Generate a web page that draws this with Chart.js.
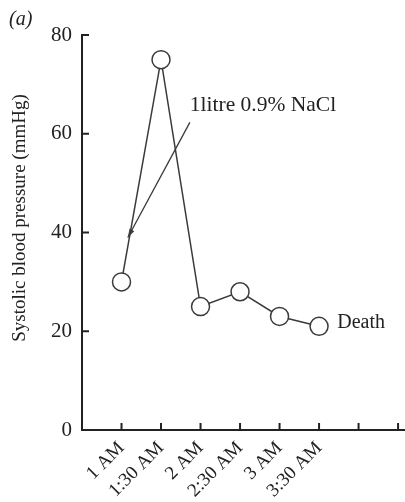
<!DOCTYPE html>
<html>
<head>
<meta charset="utf-8">
<script src="https://cdn.jsdelivr.net/npm/chart.js@4"></script>
<style>
  html, body { margin: 0; padding: 0; background: #fff; }
  #wrap { width: 405px; height: 502px; }
</style>
</head>
<body>
<div id="wrap"><canvas id="chartCanvas" width="405" height="502"></canvas></div>
<script>
// time points (x position index) and readings
const timeLabels = ['1 AM', '1:30 AM', '2 AM', '2:30 AM', '3 AM', '3:30 AM'];
const timeSlots = [1, 2, 3, 4, 5, 6];
const systolic = [30, 75, 25, 28, 23, 21];
const yTicks = [0, 20, 40, 60, 80];

// annotation: text anchor and arrow in data units
const nacl_text = '1litre 0.9% NaCl';
const nacl_textAt = [2.73, 65.8];
const nacl_arrowFrom = [2.73, 62.3];
const nacl_arrowTo = [1.16, 39];
const deathText = 'Death';
const deathAt = [6.46, 21.7];

const serif = "'Liberation Serif', 'Times New Roman', serif";
const ink = '#222';
const lineInk = '#3a3a3a';

const annotations = {
    id: 'annotations',
    afterDraw(chart) {
        const ctx = chart.ctx;
        const x = chart.scales.x, y = chart.scales.y;
        const area = chart.chartArea;
        ctx.save();
        ctx.strokeStyle = ink;
        ctx.lineWidth = 2;
        // inward tick marks on y axis
        yTicks.forEach(v => {
            const py = y.getPixelForValue(v);
            ctx.beginPath();
            ctx.moveTo(area.left, py);
            ctx.lineTo(area.left + 7, py);
            ctx.stroke();
        });
        // inward tick marks on x axis (8 slots)
        x.ticks.forEach(t => {
            if (t.value < 1) return;
            const px = x.getPixelForValue(t.value);
            ctx.beginPath();
            ctx.moveTo(px, area.bottom);
            ctx.lineTo(px, area.bottom - 7);
            ctx.stroke();
        });

        // arrow for saline
        const fx = x.getPixelForValue(nacl_arrowFrom[0]), fy = y.getPixelForValue(nacl_arrowFrom[1]);
        const tx = x.getPixelForValue(nacl_arrowTo[0]), ty = y.getPixelForValue(nacl_arrowTo[1]);
        ctx.strokeStyle = lineInk;
        ctx.lineWidth = 1.3;
        ctx.beginPath();
        ctx.moveTo(fx, fy);
        ctx.lineTo(tx, ty);
        ctx.stroke();
        const ang = Math.atan2(ty - fy, tx - fx);
        ctx.fillStyle = lineInk;
        ctx.beginPath();
        ctx.moveTo(tx, ty);
        ctx.lineTo(tx - 9 * Math.cos(ang - 0.3), ty - 9 * Math.sin(ang - 0.3));
        ctx.lineTo(tx - 9 * Math.cos(ang + 0.3), ty - 9 * Math.sin(ang + 0.3));
        ctx.closePath();
        ctx.fill();

        ctx.fillStyle = ink;
        ctx.textBaseline = 'middle';
        ctx.textAlign = 'left';
        ctx.font = '21.5px ' + serif;
        ctx.fillText(nacl_text, x.getPixelForValue(nacl_textAt[0]), y.getPixelForValue(nacl_textAt[1]));
        ctx.font = '20px ' + serif;
        ctx.fillText(deathText, x.getPixelForValue(deathAt[0]), y.getPixelForValue(deathAt[1]));

        // panel label
        ctx.font = 'italic 20px ' + serif;
        ctx.fillText('(a)', 9, 20);

        // y axis title
        ctx.font = '19px ' + serif;
        ctx.textAlign = 'center';
        ctx.translate(20, 218);
        ctx.rotate(-Math.PI / 2);
        ctx.fillText('Systolic blood pressure (mmHg)', 0, 0);
        ctx.restore();
    }
};

const ctx = document.getElementById('chartCanvas').getContext('2d');
new Chart(ctx, {
    type: 'line',
    data: {
        datasets: [{
            data: timeSlots.map((t, i) => ({ x: t, y: systolic[i] })),
            borderColor: lineInk,
            borderWidth: 1.5,
            pointRadius: 9,
            pointBorderWidth: 1.5,
            pointBackgroundColor: '#fff',
            pointBorderColor: lineInk,
            tension: 0,
            fill: false,
            clip: false
        }]
    },
    options: {
        responsive: false,
        animation: false,
        layout: { autoPadding: false, padding: { top: 35, right: 1, left: 0, bottom: 0 } },
        plugins: { legend: { display: false }, tooltip: { enabled: false } },
        scales: {
            x: {
                type: 'linear',
                min: 0,
                max: 8.15,
                afterBuildTicks: scale => {
                    scale.ticks = [1, 2, 3, 4, 5, 6, 7, 8].map(v => ({ value: v }));
                },
                afterFit: scale => {
                    scale.height = 72;
                    scale.paddingLeft = 0;
                    scale.paddingRight = 0;
                },
                grid: { display: false, drawTicks: false },
                border: { display: true, color: ink, width: 2 },
                ticks: {
                    autoSkip: false,
                    minRotation: 45,
                    maxRotation: 45,
                    padding: 7,
                    color: ink,
                    font: { family: serif, size: 19 },
                    callback: v => timeLabels[v - 1] || ''
                }
            },
            y: {
                min: 0,
                max: 80,
                afterBuildTicks: scale => {
                    scale.ticks = yTicks.map(v => ({ value: v }));
                },
                afterFit: scale => { scale.width = 82; },
                grid: { display: false, drawTicks: false },
                border: { display: true, color: ink, width: 2 },
                ticks: {
                    padding: 10,
                    color: ink,
                    font: { family: serif, size: 21 }
                }
            }
        }
    },
    plugins: [annotations]
});
</script>
</body>
</html>
